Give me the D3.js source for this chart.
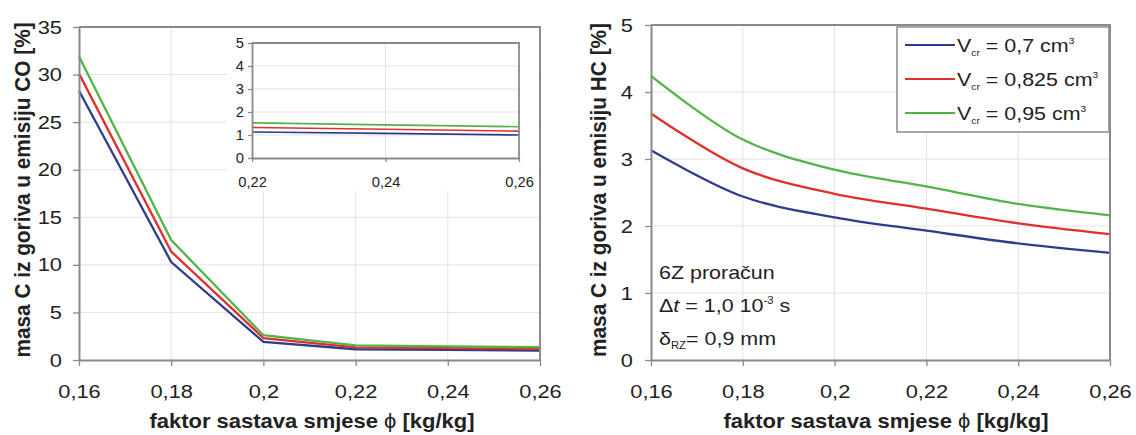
<!DOCTYPE html>
<html><head><meta charset="utf-8">
<script src="https://cdn.jsdelivr.net/npm/d3@7"></script>
<style>
body{margin:0;background:#fff}
svg{display:block}
text{font-family:"Liberation Sans",Arial,sans-serif;fill:#222}
</style>
</head><body>
<svg id="c" width="1136" height="435"></svg>
<script>
// ---------- data ----------
const phi = [0.16, 0.18, 0.20, 0.22, 0.24, 0.26];
const xTickLabels = ["0,16", "0,18", "0,2", "0,22", "0,24", "0,26"];
const coBlue  = [28.3, 10.3, 1.9, 1.13, 1.07, 1.00];
const coRed   = [30.1, 11.4, 2.3, 1.33, 1.25, 1.17];
const coGreen = [31.9, 12.6, 2.6, 1.53, 1.44, 1.36];
const hcBlue  = [3.13, 2.44, 2.13, 1.93, 1.74, 1.60];
const hcRed   = [3.68, 2.86, 2.48, 2.26, 2.04, 1.88];
const hcGreen = [4.24, 3.29, 2.84, 2.59, 2.33, 2.16];
const coTicks = [0, 5, 10, 15, 20, 25, 30, 35];
const hcTicks = [0, 1, 2, 3, 4, 5];
const insetXTicks = [0.22, 0.24, 0.26];
const insetXLabels = ["0,22", "0,24", "0,26"];
const insetYTicks = [0, 1, 2, 3, 4, 5];
const legendValues = ["0,7", "0,825", "0,95"];
const colors = ["#2f3c8e", "#e0302c", "#52b448"];

const svg = d3.select("#c");
const AX = "#8a8a8a", GRID = "#e3e3e3";
const SX = 1.13; // horizontal stretch of the reference lettering

function panel(o) {
  const x = d3.scaleLinear().domain(o.xDomain).range(o.xRange);
  const y = d3.scaleLinear().domain(o.yDomain).range(o.yRange);
  const g = svg.append("g");
  if (o.bg) {
    g.append("rect").attr("x", o.bg[0]).attr("y", o.bg[1])
      .attr("width", o.bg[2]).attr("height", o.bg[3]).attr("fill", "#fff");
  }
  // grid
  g.append("g").selectAll("line").data(o.yTicks.slice(1)).join("line")
    .attr("x1", o.xRange[0]).attr("x2", o.xRange[1])
    .attr("y1", d => y(d)).attr("y2", d => y(d))
    .attr("stroke", GRID).attr("stroke-width", 1);
  g.append("g").selectAll("line").data(o.xTicks.slice(1, -1)).join("line")
    .attr("y1", o.yRange[0]).attr("y2", o.yRange[1])
    .attr("x1", d => x(d)).attr("x2", d => x(d))
    .attr("stroke", GRID).attr("stroke-width", 1);
  // series
  const line = d3.line().x((d, i) => x(o.xs[i])).y(d => y(d)).curve(o.curve || d3.curveLinear);
  o.series.forEach((s, k) => {
    g.append("path").attr("d", line(s)).attr("fill", "none")
      .attr("stroke", colors[k]).attr("stroke-width", o.lw || 2.3);
  });
  // frame (top/right)
  g.append("path")
    .attr("d", `M${o.xRange[0]},${o.yRange[1]}H${o.xRange[1]}V${o.yRange[0]}`)
    .attr("fill", "none").attr("stroke", AX).attr("stroke-width", o.fw || 2);
  // axes
  const ax = g.append("g").attr("transform", `translate(0,${o.yRange[0]})`)
    .call(d3.axisBottom(x).tickValues(o.xTicks).tickFormat((d, i) => o.xLabels[i])
      .tickSize(o.tick).tickSizeOuter(0).tickPadding(o.xPad));
  const ay = g.append("g").attr("transform", `translate(${o.xRange[0]},0)`)
    .call(d3.axisLeft(y).tickValues(o.yTicks).tickFormat(d => String(d))
      .tickSize(o.tick).tickSizeOuter(0).tickPadding(o.yPad));
  [ax, ay].forEach(a => {
    a.select(".domain").attr("stroke", AX).attr("stroke-width", o.fw || 2);
    a.selectAll(".tick line").attr("stroke", AX).attr("stroke-width", 1.3);
    a.selectAll("text").attr("font-size", o.fs).attr("fill", "#222")
      .attr("font-family", '"Liberation Sans",Arial,sans-serif')
      .each(function () {
        const t = d3.select(this);
        const xv = +t.attr("x") || 0;
        t.attr("x", xv / o.sx).attr("transform", `scale(${o.sx},1)`);
      });
  });
  return {x, y, g};
}

// ---------- left chart (CO) ----------
panel({
  xDomain: [0.16, 0.26], xRange: [79, 540],
  yDomain: [0, 35], yRange: [360, 27],
  xs: phi, xTicks: phi, xLabels: xTickLabels, yTicks: coTicks,
  series: [coBlue, coRed, coGreen], tick: 6, xPad: 19, yPad: 11, fs: 19, sx: 1.15
});
// inset
panel({
  bg: [227, 29, 311, 162],
  xDomain: [0.22, 0.26], xRange: [252, 519],
  yDomain: [0, 5], yRange: [158, 43],
  xs: phi.slice(3), xTicks: insetXTicks, xLabels: insetXLabels, yTicks: insetYTicks,
  series: [coBlue.slice(3), coRed.slice(3), coGreen.slice(3)],
  tick: 4, xPad: 15, yPad: 4, fs: 14, sx: 1.05, lw: 1.6, fw: 1.8
});

// ---------- right chart (HC) ----------
panel({
  xDomain: [0.16, 0.26], xRange: [651, 1110],
  yDomain: [0, 5], yRange: [360, 25],
  xs: phi, xTicks: phi, xLabels: xTickLabels, yTicks: hcTicks,
  series: [hcBlue, hcRed, hcGreen], curve: d3.curveCatmullRom.alpha(0.5),
  tick: 6, xPad: 19, yPad: 12, fs: 19, sx: 1.15
});

// ---------- axis titles ----------
function xTitle(cx) {
  const t = svg.append("text").attr("transform", `translate(${cx},428) scale(1.1,1)`)
    .attr("text-anchor", "middle").attr("font-size", 20).attr("font-weight", "bold");
  t.append("tspan").text("faktor sastava smjese ");
  t.append("tspan").attr("font-weight", "normal").text("ϕ");
  t.append("tspan").text(" [kg/kg]");
}
xTitle(312); xTitle(886);
function yTitle(x, cy, s) {
  svg.append("text").attr("transform", `translate(${x},${cy}) scale(1.1,1) rotate(-90)`)
    .attr("text-anchor", "middle").attr("font-size", 20.8).attr("font-weight", "bold")
    .attr("dy", "0.35em").text(s);
}
yTitle(22, 190, "masa C iz goriva u emisiju CO [%]");
yTitle(598, 190, "masa C iz goriva u emisiju HC [%]");

// ---------- legend ----------
const lg = svg.append("g");
lg.append("rect").attr("x", 897).attr("y", 27).attr("width", 212).attr("height", 105)
  .attr("fill", "#fff").attr("stroke", AX).attr("stroke-width", 1.5);
legendValues.forEach((v, i) => {
  const cy = 45 + i * 34;
  lg.append("line").attr("x1", 905).attr("x2", 955).attr("y1", cy).attr("y2", cy)
    .attr("stroke", colors[i]).attr("stroke-width", 2);
  const t = lg.append("text").attr("transform", `translate(957,${cy + 7}) scale(${SX},1)`)
    .attr("font-size", 19);
  t.append("tspan").text("V");
  t.append("tspan").attr("font-size", 9).attr("dy", 4).text("cr");
  t.append("tspan").attr("dy", -4).text(" = " + v + " cm");
  t.append("tspan").attr("font-size", 9).attr("dy", -8).text("3");
});

// ---------- annotation ----------
const an = svg.append("g").attr("font-size", 19);
an.append("text").attr("transform", `translate(659,279) scale(${SX},1)`).text("6Z proračun");
const t2 = an.append("text").attr("transform", `translate(659,312) scale(${SX},1)`);
t2.append("tspan").text("Δ");
t2.append("tspan").attr("font-style", "italic").text("t");
t2.append("tspan").text(" = 1,0 10");
t2.append("tspan").attr("font-size", 10).attr("dy", -8).text("-3");
t2.append("tspan").attr("dy", 8).text(" s");
const t3 = an.append("text").attr("transform", `translate(659,345) scale(${SX},1)`);
t3.append("tspan").text("δ");
t3.append("tspan").attr("font-size", 10).attr("dy", 4).text("RZ");
t3.append("tspan").attr("dy", -4).text("= 0,9 mm");
</script>
</body></html>
